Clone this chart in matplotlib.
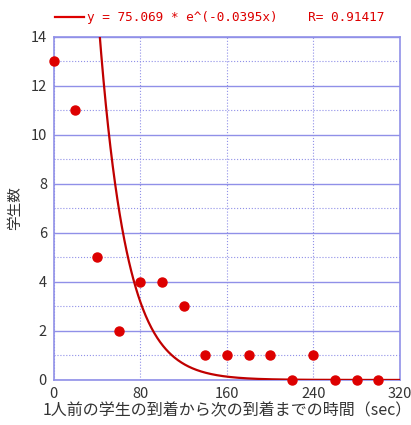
import numpy as np
import matplotlib
matplotlib.use("Agg")
from matplotlib import pyplot as plt

plt.rcParams['font.family'] = ['Noto Sans CJK JP', 'DejaVu Sans']

# arrival interval (sec) and number of students
interval = [0, 20, 40, 60, 80, 100, 120, 140, 160, 180, 200, 220, 240, 260, 280, 300]
students = [13, 11, 5, 2, 4, 4, 3, 1, 1, 1, 1, 0, 1, 0, 0, 0]

fit_a = 75.069
fit_b = -0.0395
fit_r = 0.91417

x_ticks = [0, 80, 160, 240, 320]
y_ticks = [0, 2, 4, 6, 8, 10, 12, 14]

grid_col = '#9090e8'
red = '#dd0000'

fig = plt.figure(figsize=(4.11, 4.25), dpi=100)
ax = fig.add_axes([0.131, 0.106, 0.842, 0.807])

xs = np.linspace(0, 320, 600)
ax.plot(xs, fit_a * np.exp(fit_b * xs), color='#c00000', lw=1.6, zorder=3)
ax.plot(interval, students, 'o', color=red, ms=6.5, clip_on=False, zorder=4)

ax.set_xlim(0, 320)
ax.set_ylim(0, 14)
ax.set_xticks(x_ticks)
ax.set_yticks(y_ticks)
ax.set_yticks(np.arange(1, 14, 2), minor=True)

ax.grid(axis='y', which='major', color=grid_col, lw=1.0, ls='-')
ax.grid(axis='y', which='minor', color=grid_col, lw=0.8, ls=':')
ax.grid(axis='x', which='major', color=grid_col, lw=0.8, ls=':')
ax.set_axisbelow(True)
for s in ax.spines.values():
    s.set_color(grid_col)
    s.set_linewidth(1.2)
ax.tick_params(which='both', length=0, labelsize=10.5, colors='#333333', pad=5)

ax.set_xlabel('1人前の学生の到着から次の到着までの時間（sec）', fontsize=11.5,
              color='#333333', labelpad=1)
ax.set_ylabel('学生数', fontsize=10.5, color='#333333', labelpad=6)

# legend line + equation above plot
fig.lines.append(plt.Line2D([0.135, 0.205], [0.96, 0.96], color=red, lw=1.6,
                            transform=fig.transFigure))
fig.text(0.212, 0.96, 'y = %.3f * e^(%.4fx)    R= %.5f' % (fit_a, fit_b, fit_r),
         color=red, fontsize=9.2, va='center', ha='left',
         family=['DejaVu Sans Mono'])

fig.savefig('out.png', dpi=100)
